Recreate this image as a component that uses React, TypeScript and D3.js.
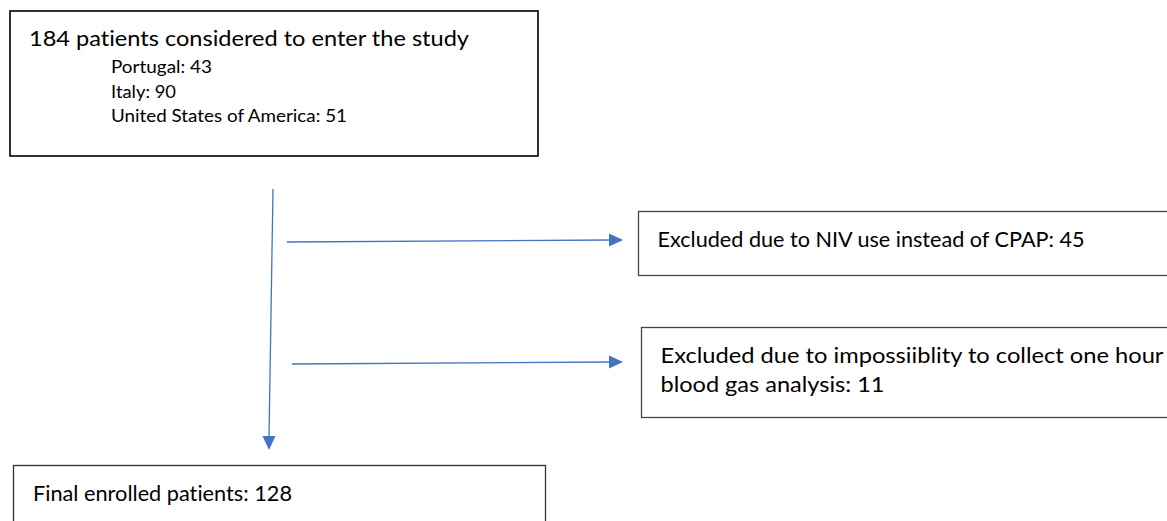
import { useMemo } from "react";
import * as d3 from "d3";

const totalConsidered = 184;
const countries = ["Portugal", "Italy", "United States of America"];
const countryCounts = [43, 90, 51];
const exclusionReasons = [
  ["Excluded due to NIV use instead of CPAP: "],
  ["Excluded due to impossiiblity to collect one hour", "blood gas analysis: "],
];
const exclusionCounts = [45, 11];
const finalEnrolled = 128;

// measured line widths of the original typesetting, so the stand-in font fills the same space
const countryWidths = [101, 65, 236];
const exclusionWidths = [[427], [503, 224]];

const W = 1167;
const H = 521;
const FONT = "Lato, 'Open Sans', sans-serif";
const BLUE = "#4472c4";
const noLig = { fontVariantLigatures: "none" as const };

export default function App() {
  const line = useMemo(
    () =>
      d3
        .line<[number, number]>()
        .x((d) => d[0])
        .y((d) => d[1]),
    [],
  );

  // box layout, in page pixels
  const topBox = { x: 10, y: 11, w: 528, h: 145 };
  const exclBoxes = [
    { x: 638.5, y: 211.5, w: 540, h: 64 },
    { x: 641.5, y: 327.5, w: 540, h: 90 },
  ];
  const bottomBox = { x: 13.5, y: 465.5, w: 532, h: 80 };

  const arrowY = [241, 363];
  const mainX = d3.scaleLinear().domain([0, 1]).range([273, 269]);

  const head = (tip: [number, number], dir: "right" | "down") => {
    const [x, y] = tip;
    const pts: [number, number][] =
      dir === "right"
        ? [
            [x, y],
            [x - 14, y - 6.5],
            [x - 14, y + 6.5],
          ]
        : [
            [x, y],
            [x - 6.5, y - 14],
            [x + 6.5, y - 14],
          ];
    return (line(pts) ?? "") + "Z";
  };

  return (
    <div style={{ position: "fixed", left: 0, top: 0 }}>
      <svg width={W} height={H} viewBox={`0 0 ${W} ${H}`} style={noLig}>
        <rect width={W} height={H} fill="#fff" />

        <rect
          x={topBox.x}
          y={topBox.y}
          width={topBox.w}
          height={topBox.h}
          fill="none"
          stroke="#000"
          strokeWidth={1.6}
        />
        <text
          x={29}
          y={46}
          fontFamily={FONT}
          fontSize={21}
          fill="#000"
          textLength={440}
          lengthAdjust="spacingAndGlyphs"
        >
          {`${totalConsidered} patients considered to enter the study`}
        </text>
        {countries.map((c, i) => (
          <text
            key={c}
            x={111}
            y={73 + i * 24.5}
            fontFamily={FONT}
            fontSize={17}
            fill="#000"
            textLength={countryWidths[i]}
            lengthAdjust="spacingAndGlyphs"
          >
            {`${c}: ${countryCounts[i]}`}
          </text>
        ))}

        {/* main vertical flow */}
        <path
          d={line([
            [mainX(0), 189],
            [mainX(1), 437],
          ]) ?? ""}
          stroke={BLUE}
          strokeWidth={1.3}
          fill="none"
        />
        <path d={head([mainX(1), 450], "down")} fill={BLUE} />

        {/* side arrows */}
        {arrowY.map((y, i) => {
          const x0 = i === 0 ? 287 : 292;
          const tip = 623;
          return (
            <g key={i}>
              <path
                d={line([
                  [x0, y + 1],
                  [tip - 12, y - 1],
                ]) ?? ""}
                stroke={BLUE}
                strokeWidth={1.3}
                fill="none"
              />
              <path d={head([tip, y - 1], "right")} fill={BLUE} />
            </g>
          );
        })}

        {exclBoxes.map((b, i) => (
          <g key={i}>
            <rect x={b.x} y={b.y} width={b.w} height={b.h} fill="#fff" stroke="#444" strokeWidth={1.3} />
            {exclusionReasons[i].map((t, j) => {
              const last = j === exclusionReasons[i].length - 1;
              return (
                <text
                  key={j}
                  x={b.x + 19}
                  y={b.y + 35.5 + j * 29}
                  fontFamily={FONT}
                  fontSize={21}
                  fill="#000"
                  textLength={exclusionWidths[i][j]}
                  lengthAdjust="spacingAndGlyphs"
                >
                  {last ? `${t}${exclusionCounts[i]}` : t}
                </text>
              );
            })}
          </g>
        ))}

        <rect
          x={bottomBox.x}
          y={bottomBox.y}
          width={bottomBox.w}
          height={bottomBox.h}
          fill="#fff"
          stroke="#333"
          strokeWidth={1.3}
        />
        <text
          x={33}
          y={501}
          fontFamily={FONT}
          fontSize={21}
          fill="#000"
          textLength={259}
          lengthAdjust="spacingAndGlyphs"
        >
          {`Final enrolled patients: ${finalEnrolled}`}
        </text>
      </svg>
    </div>
  );
}
